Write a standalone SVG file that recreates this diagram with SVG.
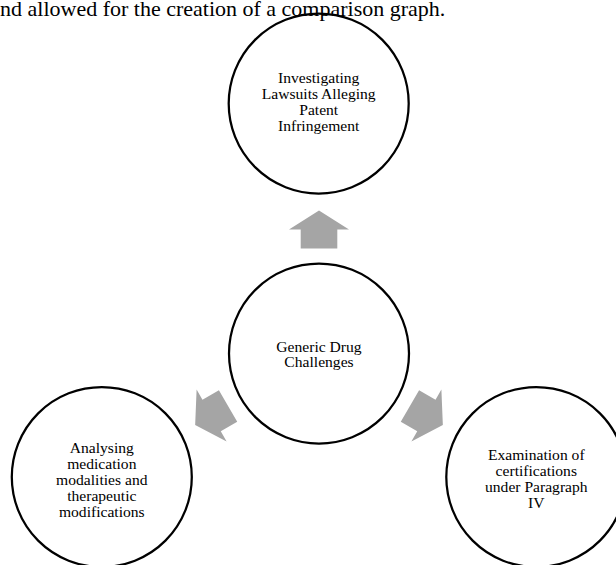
<svg xmlns="http://www.w3.org/2000/svg" xmlns:xlink="http://www.w3.org/1999/xlink" width="616" height="565" viewBox="0 0 616 565">
  <style>
    .node { fill: #ffffff; stroke: #000000; stroke-width: 2.25; }
    .lbl { font-family: "Liberation Serif", "Times New Roman", serif; font-size: 15.6px; fill: #000000; text-anchor: middle; }
    .cap { font-family: "Liberation Serif", "Times New Roman", serif; font-size: 22px; fill: #000000; }
    .arrow { fill: #a5a5a5; stroke: none; }
  </style>
  <defs>
    <polygon id="arr" class="arrow" points="0,-143 30,-124 18.3,-124 18.3,-105 -18.3,-105 -18.3,-124 -30,-124"/>
  </defs>
  <rect width="616" height="565" fill="#ffffff"/>

  <g id="connectors">
    <use xlink:href="#arr" href="#arr" transform="translate(319,353.5)"/>
    <use xlink:href="#arr" href="#arr" transform="translate(319,353.5) rotate(120)"/>
    <use xlink:href="#arr" href="#arr" transform="translate(319,353.5) rotate(-120)"/>
  </g>

  <g id="node-top">
    <circle class="node" cx="318.7" cy="103.5" r="90"/>
    <text class="lbl" x="318.7" y="83.3">Investigating</text>
    <text class="lbl" x="318.7" y="99.2">Lawsuits Alleging</text>
    <text class="lbl" x="318.7" y="115.1">Patent</text>
    <text class="lbl" x="318.7" y="131">Infringement</text>
  </g>

  <g id="node-center">
    <circle class="node" cx="319" cy="353.5" r="90"/>
    <text class="lbl" x="319" y="351.7">Generic Drug</text>
    <text class="lbl" x="319" y="367.4">Challenges</text>
  </g>

  <g id="node-left">
    <circle class="node" cx="101.8" cy="477" r="90"/>
    <text class="lbl" x="101.8" y="452.7">Analysing</text>
    <text class="lbl" x="101.8" y="468.9">medication</text>
    <text class="lbl" x="101.8" y="484.9">modalities and</text>
    <text class="lbl" x="101.8" y="500.8">therapeutic</text>
    <text class="lbl" x="101.8" y="516.9">modifications</text>
  </g>

  <g id="node-right">
    <circle class="node" cx="536.3" cy="477" r="90"/>
    <text class="lbl" x="536.3" y="460">Examination of</text>
    <text class="lbl" x="536.3" y="476">certifications</text>
    <text class="lbl" x="536.3" y="491.8">under Paragraph</text>
    <text class="lbl" x="536.3" y="508">IV</text>
  </g>

  <text class="cap" x="0" y="16">nd allowed for the creation of a comparison graph.</text>
</svg>
